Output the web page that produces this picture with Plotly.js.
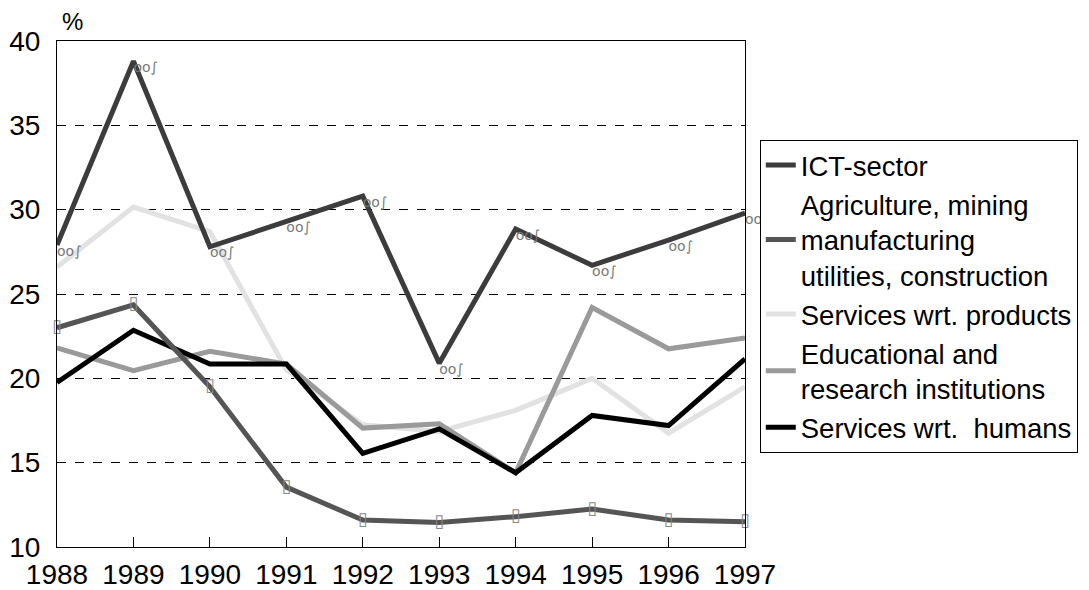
<!DOCTYPE html>
<html>
<head>
<meta charset="utf-8">
<script src="https://cdn.plot.ly/plotly-3.0.1.min.js"></script>
<style>html,body{margin:0;padding:0;background:#fff;}#chart{width:1089px;height:590px;}</style>
</head>
<body>
<div id="chart"></div>
<script>
var years = [1988, 1989, 1990, 1991, 1992, 1993, 1994, 1995, 1996, 1997];
var ictSector = [27.9, 38.8, 27.8, 29.3, 30.8, 20.9, 28.85, 26.7, 28.2, 29.8];
var agriculture = [23.0, 24.35, 19.5, 13.55, 11.6, 11.45, 11.8, 12.25, 11.6, 11.5];
var servicesProducts = [26.6, 30.15, 28.7, 20.5, 17.25, 16.85, 18.1, 20.0, 16.75, 19.5];
var educational = [21.8, 20.45, 21.6, 20.85, 17.05, 17.3, 14.4, 24.2, 21.75, 22.4];
var servicesHumans = [19.75, 22.85, 20.85, 20.85, 15.55, 17.0, 14.4, 17.8, 17.2, 21.15];
var seriesNames = [
  "ICT-sector",
  "Agriculture, mining<br>manufacturing<br>utilities, construction",
  "Services wrt. products",
  "Educational and<br>research institutions",
  "Services wrt.  humans"
];
var yTicks = [10, 15, 20, 25, 30, 35, 40];

var colors = ["#3c3c3c", "#555555", "#e2e2e2", "#9a9a9a", "#000000"];
var data = [ictSector, agriculture, servicesProducts, educational, servicesHumans];

var traces = [];
var order = [2, 3, 4, 1, 0];
order.forEach(function(i){
  traces.push({
    x: years, y: data[i], name: seriesNames[i], type: 'scatter', mode: 'lines',
    line: {color: colors[i], width: 5}, legendrank: i + 1, hoverinfo: 'skip'
  });
});
traces.push({
  x: years, y: ictSector, type: 'scatter', mode: 'text', text: years.map(function(){return 'oo∫';}),
  textposition: 'bottom right', textfont: {family: 'DejaVu Sans', size: 14, color: '#777777'},
  showlegend: false, hoverinfo: 'skip', cliponaxis: false
});
traces.push({
  x: years, y: agriculture, type: 'scatter', mode: 'text', text: years.map(function(){return '▯';}),
  textposition: 'middle center', textfont: {family: 'DejaVu Sans', size: 18, color: '#888888'},
  showlegend: false, hoverinfo: 'skip', cliponaxis: false
});

var layout = {
  width: 1089, height: 590,
  margin: {l: 57, r: 343, t: 41, b: 43},
  paper_bgcolor: '#fff', plot_bgcolor: '#fff',
  font: {family: 'Liberation Sans, Arial, sans-serif', size: 28, color: '#000'},
  showlegend: true,
  legend: {
    x: 1.02, xanchor: 'left', y: 0.805, yanchor: 'top',
    bordercolor: '#000', borderwidth: 1, bgcolor: '#fff',
    font: {size: 27.5}, tracegroupgap: 0, itemwidth: 30,
    traceorder: 'normal'
  },
  xaxis: {
    range: [1988, 1997], tickvals: years, ticktext: years.map(String),
    showgrid: false, zeroline: false, showline: true, linecolor: '#000', linewidth: 1,
    mirror: true, ticks: 'inside', ticklen: 10, tickcolor: '#000',
    tickfont: {size: 28}, ticklabelstandoff: 2
  },
  yaxis: {
    range: [10, 40], tickvals: yTicks, ticktext: yTicks.map(String),
    showgrid: true, gridcolor: '#000', griddash: 'dash', gridwidth: 1,
    zeroline: false, showline: true, linecolor: '#000', linewidth: 1, mirror: true,
    ticks: '', tickfont: {size: 28}, ticklabelstandoff: 10
  },
  annotations: [{
    text: '%', xref: 'paper', yref: 'paper', x: 0.005, y: 1.0, xanchor: 'left', yanchor: 'bottom',
    yshift: 4, showarrow: false, font: {size: 24}
  }]
};
Plotly.newPlot('chart', traces, layout, {displayModeBar: false, staticPlot: true});
</script>
</body>
</html>
